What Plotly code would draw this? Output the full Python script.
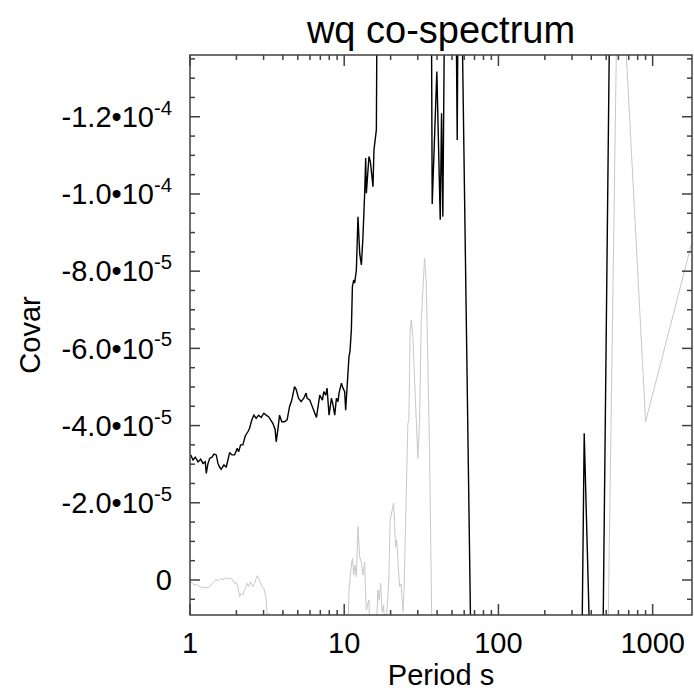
import numpy as np
import plotly.graph_objects as go

# covariance values are in units of 1e-5
black_period = [1.010, 1.046, 1.082, 1.127, 1.173, 1.214, 1.256, 1.275, 1.308, 1.341,
                1.388, 1.430, 1.480, 1.518, 1.557, 1.594, 1.660, 1.718, 1.807, 1.870,
                1.947, 2.024, 2.066, 2.129, 2.203, 2.280, 2.373, 2.434, 2.519, 2.596,
                2.687, 2.785, 2.894, 3.013, 3.118, 3.232, 3.330, 3.444, 3.566, 3.620,
                3.712, 3.807, 3.939, 4.101, 4.264, 4.419, 4.573, 4.762, 4.877, 5.053,
                5.253, 5.468, 5.658, 5.743, 5.981, 6.227, 6.444, 6.609, 6.767, 6.941,
                7.226, 7.367, 7.591, 7.739, 7.973, 8.265, 8.464, 8.681, 8.904, 9.117,
                9.253, 9.592, 9.822, 10.07, 10.22, 10.43, 10.74, 10.90, 11.13, 11.30,
                11.52, 11.69, 11.99, 12.28, 12.60, 12.92, 13.23, 13.57, 13.78, 13.92,
                14.47, 14.77, 15.07, 15.37, 15.59, 15.99, 16.16, 16.6, 20.0, 25.0,
                30.0, 35.5, 37.2, 39.87, 41.95, 42.77, 43.61, 45.0, 48.0, 51.3,
                54.05, 55.6, 66.7, 80.0, 100.0, 129.0, 164.0, 200.0, 257.0, 300.0,
                360.0, 450.0, 600.0, 900.0, 1800.0]
black_cov = [-3.24, -3.11, -3.18, -3.06, -3.13, -3.02, -3.06, -2.76, -3.02, -3.15,
             -3.18, -3.26, -3.24, -3.02, -2.92, -2.87, -2.98, -2.92, -3.30, -3.24,
             -3.24, -3.41, -3.32, -3.50, -3.50, -3.73, -3.84, -3.93, -4.15, -4.27,
             -4.19, -4.27, -4.21, -4.32, -4.27, -4.23, -4.15, -4.06, -3.90, -3.58,
             -3.89, -4.27, -4.10, -4.10, -4.15, -4.49, -4.66, -5.01, -4.94, -4.71,
             -4.62, -4.71, -4.84, -4.71, -4.66, -4.49, -4.36, -4.21, -4.49, -4.79,
             -4.66, -4.88, -4.79, -4.97, -4.27, -4.71, -4.53, -4.27, -4.71, -4.62,
             -4.84, -5.10, -4.97, -4.88, -4.40, -5.01, -5.79, -5.92, -6.48, -7.60,
             -7.77, -7.69, -8.03, -9.41, -8.46, -8.16, -8.89, -10.02, -10.93, -10.02,
             -10.97, -10.84, -10.58, -10.19, -11.14, -11.48, -11.66, -20.0, -25.0, -32.0,
             -28.0, -30.0, -9.74, -13.17, -9.33, -12.09, -9.41, -25.0, -30.0, -22.0,
             -11.4, -20.0, 2.5, 12.0, 20.0, 15.0, 22.0, 14.0, 24.0, 26.0,
             -3.8, 10.8, -36.0, -28.0, -22.0]

gray_period = [1.010, 1.061, 1.098, 1.155, 1.214, 1.275, 1.341, 1.388, 1.430, 1.480,
               1.518, 1.580, 1.635, 1.693, 1.762, 1.834, 1.898, 1.946, 1.993, 2.044,
               2.097, 2.147, 2.203, 2.279, 2.350, 2.397, 2.470, 2.558, 2.622, 2.726,
               2.822, 2.923, 3.013, 3.118, 3.20, 3.26, 3.35, 3.6, 3.9, 4.05,
               4.2, 5.0, 6.0, 7.0, 8.0, 9.0, 10.4, 10.74, 10.97, 11.30,
               11.52, 11.75, 11.99, 12.28, 12.60, 12.92, 13.23, 13.57, 13.78, 13.92,
               14.26, 14.47, 14.77, 15.5, 16.55, 16.85, 17.23, 17.62, 18.02, 18.4,
               19.12, 19.50, 19.85, 20.30, 20.91, 21.23, 21.54, 21.87, 22.30, 22.87,
               23.38, 24.02, 24.45, 25.01, 25.50, 25.88, 26.27, 26.75, 27.23, 27.89,
               28.60, 29.33, 30.04, 30.81, 31.61, 32.36, 33.19, 34.04, 34.86, 35.76,
               37.5, 45.0, 60.0, 90.0, 150.0, 225.0, 300.0, 360.0, 450.0, 600.0,
               900.0, 1800.0]
gray_cov = [0.044, 0.13, 0.11, 0.17, 0.20, 0.20, 0.17, 0.085, 0.044, -0.026,
            0.026, -0.044, 0.0, -0.06, -0.026, -0.044, 0.0, 0.085, 0.06, 0.17,
            0.43, 0.345, 0.39, 0.215, 0.085, 0.17, 0.044, 0.17, 0.085, -0.11,
            0.0, 0.17, 0.215, 0.47, 1.3, 0.86, 2.5, 4.0, 2.0, 0.83,
            3.0, 5.0, 4.0, 6.0, 4.0, 5.0, 2.5, 0.30, -0.17, -0.56,
            -0.13, -0.39, -0.085, -1.38, -0.60, -0.44, -0.13, -0.47, 0.43, 0.78,
            0.60, 0.52, 2.0, 3.0, 0.26, 0.52, 0.085, 0.83, 0.65, 1.5,
            0.52, -0.085, -1.55, -1.74, -1.99, -1.42, -0.86, -1.04, -0.34, 0.17,
            0.10, 0.82, 0.26, -1.64, -2.5, -4.06, -4.15, -6.48, -6.74, -6.26,
            -5.18, -4.15, -3.15, -4.15, -6.74, -7.51, -8.34, -7.69, -5.96, -3.37,
            3.0, 12.0, 20.0, 15.0, 25.0, 18.0, 22.0, 15.0, 17.6, -17.5,
            -4.1, -8.76]

y_ticks = [0, -2e-5, -4e-5, -6e-5, -8e-5, -1.0e-4, -1.2e-4]
y_ticktext = ["0", "-2.0\u202210<sup>-5</sup>", "-4.0\u202210<sup>-5</sup>",
              "-6.0\u202210<sup>-5</sup>", "-8.0\u202210<sup>-5</sup>",
              "-1.0\u202210<sup>-4</sup>", "-1.2\u202210<sup>-4</sup>"]
x_ticks = [1, 10, 100, 1000]
x_ticktext = ["1", "10", "100", "1000"]

x_max = 1800
y_range = [9.07e-6, -1.36e-4]
scale = 1e-5

fig = go.Figure()
fig.add_trace(go.Scatter(x=gray_period, y=np.array(gray_cov) * scale, mode="lines",
                         line=dict(color="#c8c8c8", width=1), showlegend=False))
fig.add_trace(go.Scatter(x=black_period, y=np.array(black_cov) * scale, mode="lines",
                         line=dict(color="#000000", width=1.4), showlegend=False))

# IDL-style frame with inside ticks on all four sides
axis_col = "#404040"
lw = 1.5
x_minor = [m * d for d in (1, 10, 100, 1000) for m in range(2, 10) if m * d <= x_max]
y_minor = [-k * 5e-6 for k in range(-1, 28) if k % 4 != 0]
plot_w, plot_h = 502, 560
shapes = [dict(type="rect", xref="paper", yref="paper", x0=0, x1=1, y0=0, y1=1,
               line=dict(color=axis_col, width=lw))]
for vals, ln in ((x_ticks, 11), (x_minor, 5)):
    for v in vals:
        px = np.log10(v) / np.log10(x_max)
        f = ln / plot_h
        shapes.append(dict(type="line", xref="paper", yref="paper", x0=px, x1=px,
                           y0=0, y1=f, line=dict(color=axis_col, width=lw)))
        shapes.append(dict(type="line", xref="paper", yref="paper", x0=px, x1=px,
                           y0=1 - f, y1=1, line=dict(color=axis_col, width=lw)))
for vals, ln in ((y_ticks, 10), (y_minor, 5)):
    for v in vals:
        f = ln / plot_w
        shapes.append(dict(type="line", xref="paper", yref="y", x0=0, x1=f,
                           y0=v, y1=v, line=dict(color=axis_col, width=lw)))
        shapes.append(dict(type="line", xref="paper", yref="y", x0=1 - f, x1=1,
                           y0=v, y1=v, line=dict(color=axis_col, width=lw)))

font_name = "Liberation Sans, Arial, Helvetica"
axis_font = dict(family=font_name, size=29, color="#000")
fig.update_xaxes(type="log", range=[0, np.log10(x_max)],
                 tickmode="array", tickvals=x_ticks, ticktext=x_ticktext, ticks="",
                 showline=False, showgrid=False, zeroline=False, tickfont=axis_font,
                 ticklabelstandoff=8,
                 title=dict(text="Period s", font=axis_font, standoff=0))
fig.update_yaxes(range=y_range,
                 tickmode="array", tickvals=y_ticks, ticktext=y_ticktext, ticks="",
                 showline=False, showgrid=False, zeroline=False, tickfont=axis_font,
                 ticklabelstandoff=17,
                 title=dict(text="Covar", font=axis_font, standoff=12))

fig.update_layout(
    width=694, height=696,
    margin=dict(l=190, r=2, t=55, b=81),
    paper_bgcolor="white", plot_bgcolor="white",
    shapes=shapes,
    title=dict(text="wq co-spectrum", x=0.5, xref="paper", xanchor="center",
               y=1 - 30 / 696, yref="container", yanchor="middle",
               font=dict(family=font_name, size=38, color="#000")),
)

fig.write_html("out.html", config={"displayModeBar": False},
               post_script="document.body.style.margin='0px';")
